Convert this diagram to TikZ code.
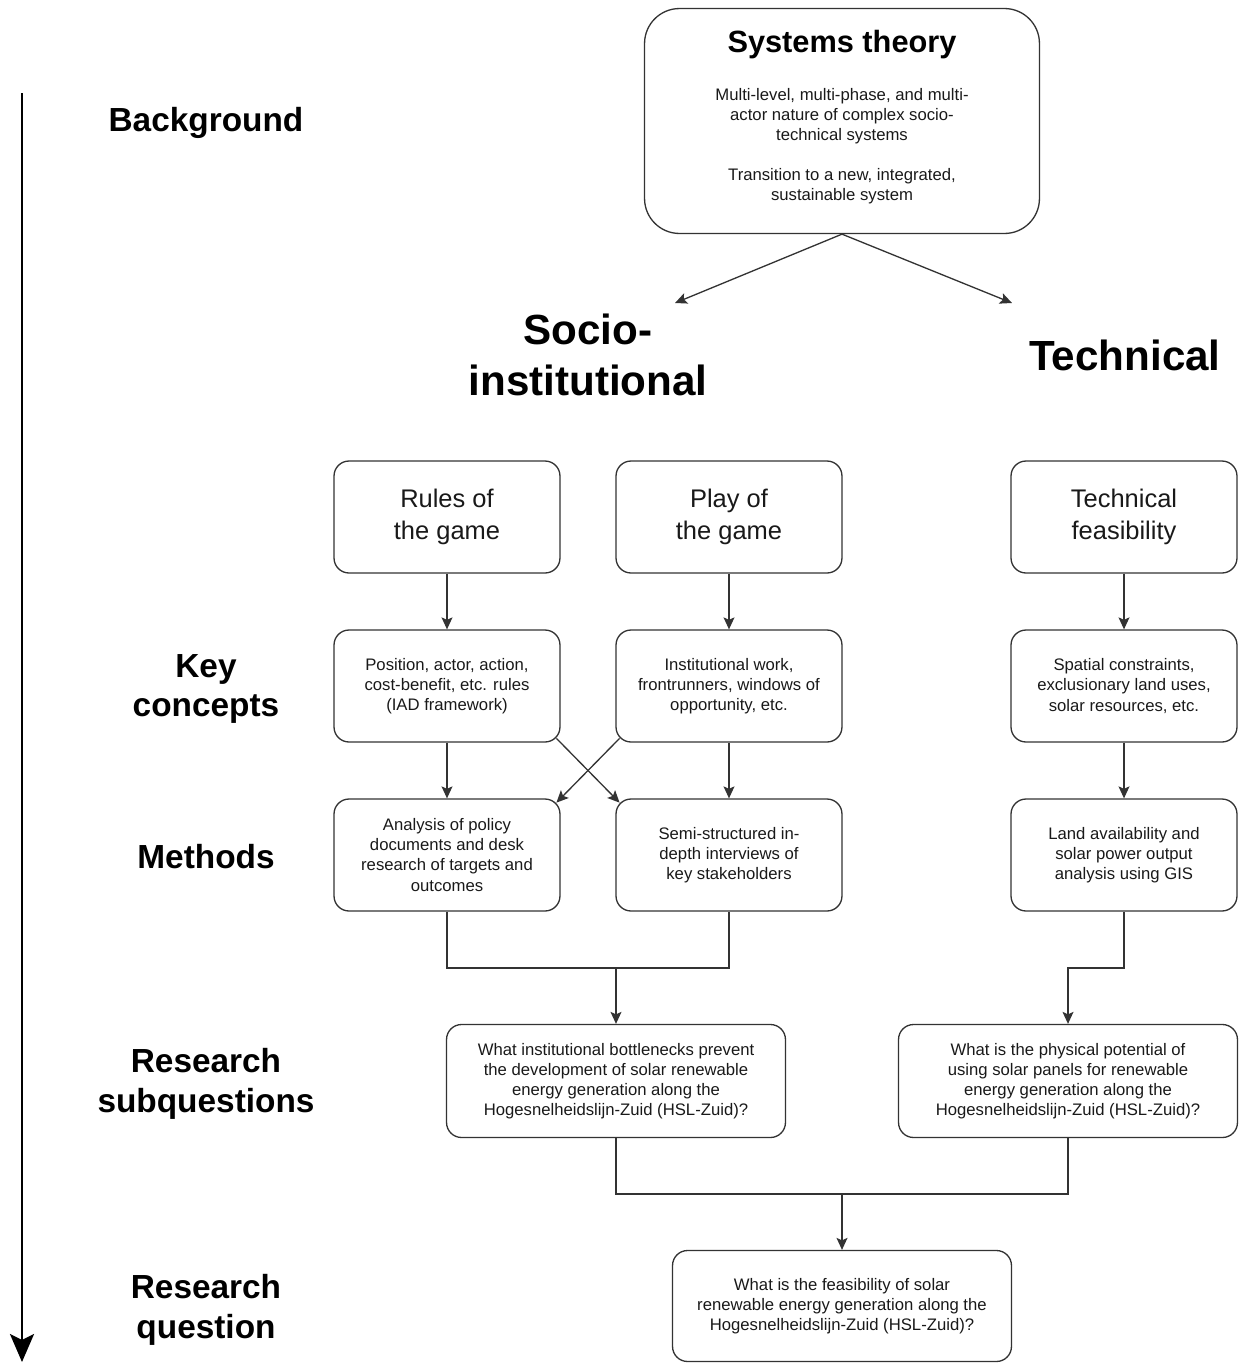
\documentclass[tikz,border=0pt]{standalone}
\usepackage{fontspec}
\setmainfont{Liberation Sans}
\usepackage{tikz}
\usetikzlibrary{arrows.meta, positioning}

\begin{document}
\begin{tikzpicture}[
  x=0.02cm, y=-0.02cm,
  >={Stealth[length=2.4mm,width=2.2mm,inset=0.5mm]},
  line/.style={draw=black!80, line width=0.75pt},
  box/.style={line, rounded corners=0.3cm, align=center, text=black!90,
    minimum width=4.52cm, minimum height=2.24cm, inner sep=2pt},
  smalltxt/.style={font=\fontsize{9.5}{11.4}\selectfont},
  gametxt/.style={font=\fontsize{14.5}{18.2}\selectfont},
  qbox/.style={box, smalltxt, minimum width=6.78cm, minimum height=2.26cm},
  sidelab/.style={font=\fontsize{19}{22.7}\selectfont\bfseries, align=center},
  biglab/.style={font=\fontsize{24}{29.5}\selectfont\bfseries, align=center},
]
\useasboundingbox (0,0) rectangle (1238,1363);

% Timeline on the left
\coordinate (tltop) at (22,93);
\coordinate (tlbot) at (22,1362);
\draw[line width=1.7pt, -{Stealth[length=0.56cm,width=0.48cm,inset=0.12cm]}] (tltop) -- (tlbot);

\node[sidelab] (lbg)   at (206,123)  {Background};
\node[sidelab] (lkey)  at (206,689)  {Key\\concepts};
\node[sidelab] (lmeth) at (206,857)  {Methods};
\node[sidelab] (lsub)  at (206,1084) {Research\\subquestions};
\node[sidelab] (lrq)   at (206,1310) {Research\\question};

% Systems theory box
\node[box, minimum width=7.9cm, minimum height=4.5cm, rounded corners=0.7cm] (sys) at (842,121) {};
\node[font=\fontsize{17.5}{21}\selectfont\bfseries] (systitle) at (842,45) {Systems theory};
\node[smalltxt, align=center, text=black!90] (systext) at (842,146)
  {Multi-level, multi-phase, and multi-\\actor nature of complex socio-\\technical systems\\[11pt]Transition to a new, integrated,\\sustainable system};

% Two perspectives
\node[biglab] (lsocio) at (588,355)  {Socio-\\institutional};
\node[biglab] (ltech)  at (1125,355) {Technical};
\coordinate (tosocio) at (675,303);
\coordinate (totech)  at (1012,303);
\draw[line,->] (sys.south) -- (tosocio);
\draw[line,->] (sys.south) -- (totech);

% Concept boxes
\node[box, gametxt] (rules) at (447,517)  {Rules of\\the game};
\node[box, gametxt] (play)  at (729,517)  {Play of\\the game};
\node[box, gametxt] (techf) at (1124,517) {Technical\\feasibility};

\node[box, smalltxt] (posn) at (447,686)  {Position, actor, action,\\cost-benefit, etc. rules\\(IAD framework)};
\node[box, smalltxt] (inst) at (729,686)  {Institutional work,\\frontrunners, windows of\\opportunity, etc.};
\node[box, smalltxt] (spat) at (1124,686) {Spatial constraints,\\exclusionary land uses,\\solar resources, etc.};

% Method boxes
\node[box, smalltxt] (anal) at (447,855)  {Analysis of policy\\documents and desk\\research of targets and\\outcomes};
\node[box, smalltxt] (semi) at (729,855)  {Semi-structured in-\\depth interviews of\\key stakeholders};
\node[box, smalltxt] (land) at (1124,855) {Land availability and\\solar power output\\analysis using GIS};

\draw[line,->] (rules) -- (posn);
\draw[line,->] (play)  -- (inst);
\draw[line,->] (techf) -- (spat);
\draw[line,->] (posn)  -- (anal);
\draw[line,->] (inst)  -- (semi);
\draw[line,->] (spat)  -- (land);
% crossing arrows, from corner arc to corner arc
\draw[line,->, shorten <=-1.2mm, shorten >=-1.2mm] (posn.south east) -- (semi.north west);
\draw[line,->, shorten <=-1.2mm, shorten >=-1.2mm] (inst.south west) -- (anal.north east);

% Subquestions
\node[qbox] (qinst) at (616,1081)  {What institutional bottlenecks prevent\\the development of solar renewable\\energy generation along the\\Hogesnelheidslijn-Zuid (HSL-Zuid)?};
\node[qbox] (qphys) at (1068,1081) {What is the physical potential of\\using solar panels for renewable\\energy generation along the\\Hogesnelheidslijn-Zuid (HSL-Zuid)?};

\coordinate (mergesoc)  at (616,968);
\coordinate (mergetech) at (1068,968);
\draw[line] (anal.south) |- (mergesoc) -| (semi.south);
\draw[line,->] (mergesoc) -- (qinst.north);
\draw[line,->] (land.south) |- (mergetech) -- (qphys.north);

% Main research question
\node[qbox, minimum height=2.22cm] (qmain) at (842,1306) {What is the feasibility of solar\\renewable energy generation along the\\Hogesnelheidslijn-Zuid (HSL-Zuid)?};

\coordinate (mergeq) at (842,1194);
\draw[line] (qinst.south) |- (mergeq) -| (qphys.south);
\draw[line,->] (mergeq) -- (qmain.north);

\end{tikzpicture}
\end{document}
